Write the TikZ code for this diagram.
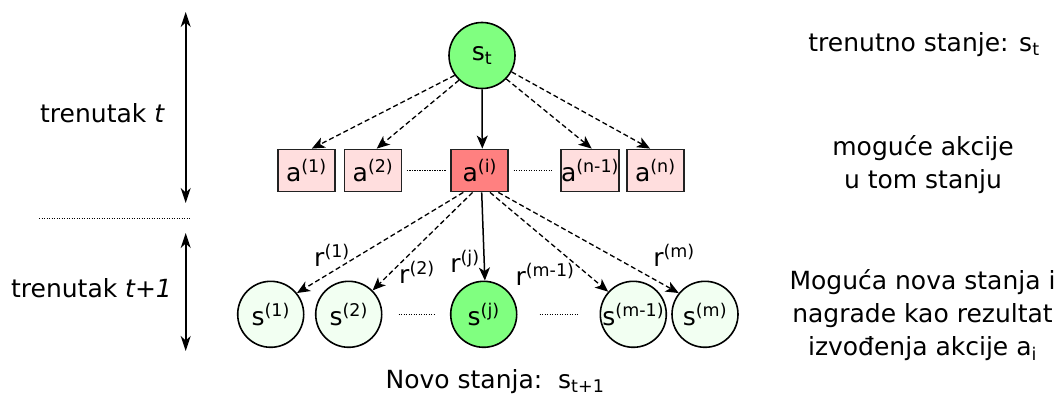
\documentclass[tikz,border=0pt]{standalone}
\usepackage{fontspec}
\setmainfont{DejaVu Sans}
\usetikzlibrary{arrows.meta}
\definecolor{stgreen}{HTML}{80FF80}
\definecolor{palegreen}{HTML}{F2FFF2}
\definecolor{actred}{HTML}{FF8080}
\definecolor{palered}{HTML}{FFDEDE}
\definecolor{edgegray}{HTML}{222222}
\tikzset{
  statenode/.style={circle, draw=black, line width=1.6pt, minimum size=66pt, inner sep=0pt, fill=palegreen},
  actnode/.style={rectangle, draw=edgegray, line width=1.8pt, minimum width=57pt, minimum height=42pt, inner sep=0pt, fill=palered},
  dasharrow/.style={line width=1.3pt, dash pattern=on 5pt off 3pt, -{Stealth[length=13pt,width=11pt,inset=3.5pt]}},
  solidarrow/.style={line width=1.5pt, -{Stealth[length=13pt,width=11pt,inset=3.5pt]}},
  dotline/.style={line width=1.2pt, dash pattern=on 1.2pt off 1.3pt},
  timearrow/.style={line width=1.6pt, {Stealth[length=15pt,width=10pt,inset=4.5pt]}-{Stealth[length=15pt,width=10pt,inset=4.5pt]}},
  lbl/.style={inner sep=0pt, font=\fontsize{25}{33}\selectfont},
}
\begin{document}
\begin{tikzpicture}[x=1pt,y=-1pt]
\useasboundingbox (0,0) rectangle (1062,396);
% top state
\node[statenode, fill=stgreen, lbl] (st) at (482,55.5) {s\textsubscript{t}};
% actions
\node[actnode, lbl] (a1) at (306.3,170.5) {a\textsuperscript{(1)}};
\node[actnode, lbl] (a2) at (373,170.5) {a\textsuperscript{(2)}};
\node[actnode, lbl, fill=actred] (ai) at (479.8,170.5) {a\textsuperscript{(i)}};
\node[actnode, lbl] (an1) at (590,170.5) {a\textsuperscript{(n-1)}};
\node[actnode, lbl] (an) at (655.3,170.5) {a\textsuperscript{(n)}};
% new states
\node[statenode, lbl] (s1) at (270.7,314.3) {s\textsuperscript{(1)}};
\node[statenode, lbl] (s2) at (348.7,314.3) {s\textsuperscript{(2)}};
\node[statenode, lbl, fill=stgreen] (sj) at (483.7,314.3) {s\textsuperscript{(j)}};
\node[statenode, lbl] (sm1) at (633.3,314.3) {s\textsuperscript{(m-1)}};
\node[statenode, lbl] (sm) at (705,314.3) {s\textsuperscript{(m)}};
% dotted separators
\draw[dotline] ([xshift=4.5pt]a2.east) -- ([xshift=-4.5pt]ai.west);
\draw[dotline] ([xshift=4.5pt]ai.east) -- ([xshift=-8pt]an1.west);
\draw[dotline] ([xshift=16pt]s2.east) -- ([xshift=-14pt]sj.west);
\draw[dotline] ([xshift=22pt]sj.east) -- ([xshift=-22pt]sm1.west);
% arrows state -> actions
\draw[dasharrow] (st.216) -- ([xshift=5.5pt]a1.north);
\draw[dasharrow] (st.227) -- ([xshift=3.7pt]a2.north);
\draw[solidarrow] (st.270) -- ([xshift=2.5pt]ai.north);
\draw[dasharrow] (st.316) -- ([xshift=1.7pt]an1.north);
\draw[dasharrow] (st.331) -- ([xshift=-5.3pt]an.north);
% arrows action -> new states
\draw[dasharrow] ([xshift=-16.5pt]ai.south) -- (s1.39);
\draw[dasharrow] ([xshift=-7.2pt]ai.south) -- (s2.45);
\draw[solidarrow] ([xshift=1.9pt]ai.south) -- (sj.88);
\draw[dasharrow] ([xshift=10.2pt]ai.south) -- (sm1.138);
\draw[dasharrow] ([xshift=18.5pt]ai.south) -- (sm.141);
% reward labels
\node[lbl] (r1) at (332,255) {r\textsuperscript{(1)}};
\node[lbl] (r2) at (417,272) {r\textsuperscript{(2)}};
\node[lbl] (rj) at (465,261) {r\textsuperscript{(j)}};
\node[lbl] (rm1) at (545,274) {r\textsuperscript{(m-1)}};
\node[lbl] (rm) at (674,255) {r\textsuperscript{(m)}};
% bottom caption
\node[lbl, anchor=base] (novo) at (495,388) {Novo stanja:\ \ s\textsubscript{t+1}};
% left time axis
\coordinate (ta1) at (185.7,12);
\coordinate (ta2) at (185.7,203);
\coordinate (tb1) at (185.7,233);
\coordinate (tb2) at (185.7,351);
\draw[timearrow] (ta1) -- (ta2);
\draw[timearrow] (tb1) -- (tb2);
\coordinate (sep1) at (39,218);
\coordinate (sep2) at (191,218);
\draw[dotline, line width=1pt] (sep1) -- (sep2);
\node[lbl] (tt) at (102.5,113) {trenutak \textit{t}};
\node[lbl] (tt1) at (91.5,288) {trenutak \textit{t+1}};
% right descriptions
\node[lbl] (d1) at (924,45) {trenutno stanje: s\textsubscript{t}};
\node[lbl, align=center] (d2) at (923,165) {moguće akcije\\u tom stanju};
\node[lbl, align=center] (d3) at (922.5,315) {Moguća nova stanja i\\nagrade kao rezultat\\izvođenja akcije a\textsubscript{i}};
\end{tikzpicture}
\end{document}
